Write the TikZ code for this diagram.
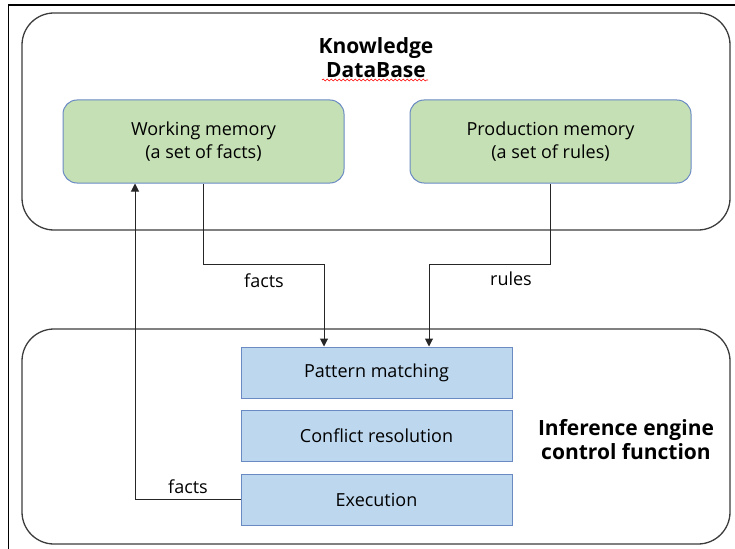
\documentclass[tikz,border=0pt]{standalone}
\usepackage{fontspec}
\setmainfont{Open Sans}
\usetikzlibrary{arrows.meta,positioning,decorations.pathmorphing}
\definecolor{Ink}{HTML}{262626}
\definecolor{Leaf}{HTML}{C5E0B4}
\definecolor{Sky}{HTML}{BDD7EE}
\definecolor{Edge}{HTML}{6A8AC4}
\tikzset{
  panel/.style={
    draw=Ink!90, line width=1.3pt, rounded corners=32pt,
    minimum width=708pt, inner sep=0pt
  },
  memory/.style={
    rounded corners=14pt, draw=Edge, line width=1pt, fill=Leaf,
    minimum width=281pt, minimum height=83pt, align=center,
    font=\fontsize{18}{23}\selectfont
  },
  stage/.style={
    draw=Edge, line width=1pt, fill=Sky,
    minimum width=271pt, minimum height=51pt,
    font=\fontsize{18}{20}\selectfont
  },
  heading/.style={font=\fontsize{21}{24}\selectfont\bfseries, align=center},
  tag/.style={font=\fontsize{18}{20}\selectfont, inner sep=1pt},
  flow/.style={-{Triangle[length=8pt,width=8pt]}, line width=1pt, draw=Ink}
}

\begin{document}
\begin{tikzpicture}[x=1pt,y=-1pt]
  \useasboundingbox (0,0) rectangle (735,548);
  \clip (0,0) rectangle (735,548);
  % page frame
  \draw[line width=1.6pt] (8.5,560) -- (8.5,5) -- (745,5);
  % the two panels
  \node[panel, minimum height=217pt] (kb) at (376,121.5) {};
  \node[panel, minimum height=215pt] (ie) at (376,436.5) {};
  \node[heading] (kbtitle) at (376,58) {Knowledge\\DataBase};
  \draw[red, line width=0.6pt, decorate,
    decoration={snake, amplitude=0.9pt, segment length=4pt}]
    (322,80) -- (428,80);
  \node[heading] (ietitle) at (626,440) {Inference engine\\control function};
  % memories
  \node[memory] (wm) at (203.5,141.5) {Working memory\\(a set of facts)};
  \node[memory] (pm) at (550.5,141.5) {Production memory\\(a set of rules)};
  % engine cycle
  \node[stage] (match) at (376.5,372.5) {Pattern matching};
  \node[stage, below=11pt of match] (resolve) {Conflict resolution};
  \node[stage, below=12pt of resolve] (exec) {Execution};
  % data flow
  \draw[flow] (wm.south) -- ++(0,81) -| ([xshift=-52.5pt]match.north);
  \draw[flow] (pm.south) -- ++(0,81) -| ([xshift=52.5pt]match.north);
  \draw[flow] (exec.west) -| ([xshift=-68.5pt]wm.south);
  \node[tag] (factsin) at (264,281) {facts};
  \node[tag] (rulesin) at (511,279) {rules};
  \node[tag] (factsout) at (188,487) {facts};
\end{tikzpicture}
\end{document}
